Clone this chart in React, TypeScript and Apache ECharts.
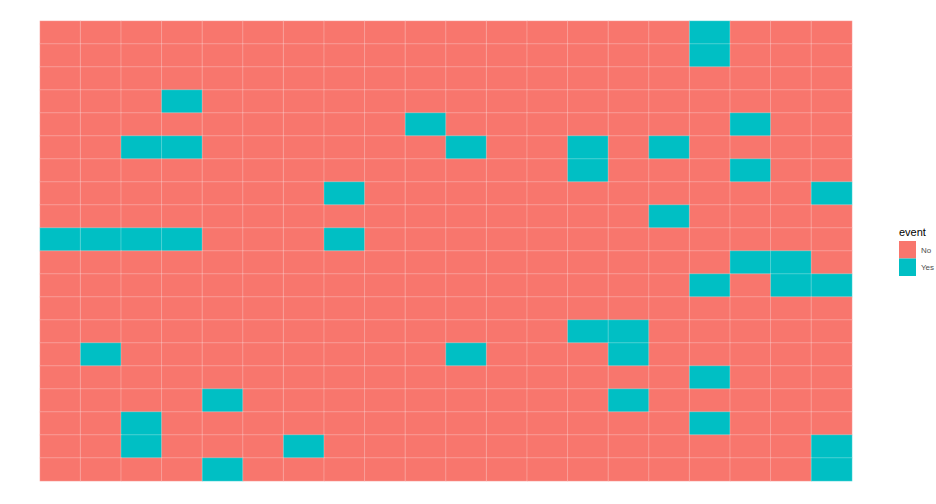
import React, { useEffect, useRef } from "react";
import * as echarts from "echarts";

const columns: string[] = Array.from({ length: 20 }, (_, i) => String(i + 1));
const rows: string[] = Array.from({ length: 20 }, (_, i) => String(i + 1));

// 1 = event "Yes", 0 = "No"; top row first
const eventRows: string[] = [
  "00000000000000001000",
  "00000000000000001000",
  "00000000000000000000",
  "00010000000000000000",
  "00000000010000000100",
  "00110000001001010000",
  "00000000000001000100",
  "00000001000000000001",
  "00000000000000010000",
  "11110001000000000000",
  "00000000000000000110",
  "00000000000000001011",
  "00000000000000000000",
  "00000000000001100000",
  "01000000001000100000",
  "00000000000000001000",
  "00001000000000100000",
  "00100000000000001000",
  "00100010000000000001",
  "00001000000000000001",
];

const eventLabels = ["No", "Yes"];
const eventColors = ["#F8766D", "#00BFC4"];

export default function App() {
  const ref = useRef<HTMLDivElement>(null);
  useEffect(() => {
    if (!ref.current) return;
    const chart = echarts.init(ref.current, null, { renderer: "svg" });
    const data: number[][] = [];
    eventRows.forEach((r, yi) => {
      r.split("").forEach((c, xi) => data.push([xi, yi, Number(c)]));
    });
    const font = "Liberation Sans, Arial, sans-serif";
    const legendItems: any[] = [];
    eventLabels.forEach((l, i) => {
      legendItems.push({
        type: "rect",
        shape: { x: 899, y: 241 + i * 17.5, width: 17, height: 17.5 },
        style: { fill: eventColors[i] },
      });
      legendItems.push({
        type: "text",
        x: 921,
        y: 250 + i * 17.5,
        style: {
          text: l,
          fontSize: 8,
          fill: "#4d4d4d",
          fontFamily: font,
          verticalAlign: "middle",
        },
      });
    });
    chart.setOption({
      animation: false,
      backgroundColor: "#ffffff",
      grid: { left: 40, top: 21, width: 812, height: 460 },
      xAxis: { type: "category", data: columns, show: false },
      yAxis: { type: "category", data: rows, inverse: true, show: false },
      visualMap: {
        type: "piecewise",
        dimension: 2,
        show: false,
        pieces: eventLabels.map((l, i) => ({ value: i, label: l, color: eventColors[i] })),
      },
      graphic: [
        {
          type: "text",
          x: 899,
          y: 232,
          style: {
            text: "event",
            fontSize: 11,
            fill: "#000000",
            fontFamily: font,
            verticalAlign: "middle",
          },
        },
        ...legendItems,
      ],
      series: [
        {
          type: "heatmap",
          data,
          itemStyle: { borderColor: "rgba(255,255,255,0.25)", borderWidth: 1 },
          emphasis: { disabled: true },
        },
      ],
    });
    return () => chart.dispose();
  }, []);
  return (
    <div
      ref={ref}
      style={{ position: "fixed", left: 0, top: 0, width: 936, height: 504 }}
    />
  );
}
